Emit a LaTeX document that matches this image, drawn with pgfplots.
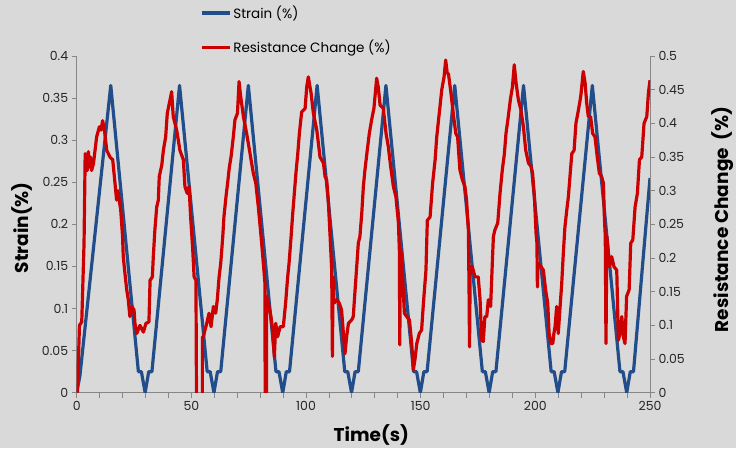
\documentclass[border=0pt]{standalone}
\usepackage{pgfplots}
\pgfplotsset{compat=1.18}
\usepackage{fontspec}
\setmainfont{Poppins}
\definecolor{bg}{RGB}{217,217,217}
\definecolor{axgray}{RGB}{134,134,134}
\definecolor{sblue}{RGB}{33,78,138}
\definecolor{rred}{RGB}{204,0,0}
\begin{document}
\begin{tikzpicture}
\path[use as bounding box, fill=bg] (0,0) rectangle (736pt,448pt);
\pgfplotsset{
 base/.style={
  at={(76.7pt,55.3pt)}, anchor=south west,
  width=573.3pt, height=336.7pt, scale only axis,
  xmin=0, xmax=250,
  tick align=outside,
  major tick length=5pt, minor tick length=5pt,
  tick style={axgray, line width=0.8pt},
  axis line style={axgray, line width=0.8pt},
  ticklabel style={font=\fontsize{12.5}{14}\selectfont, text=black!85},
  /pgf/number format/assume math mode=true,
  scaled y ticks=false,
  yticklabel style={/pgf/number format/fixed, /pgf/number format/precision=2},
  label style={font=\fontsize{18.5}{22}\selectfont\bfseries},
 }
}
\begin{axis}[base,
  axis y line*=left, axis x line*=bottom,
  ymin=0, ymax=0.4, ytick={0,0.05,0.1,0.15,0.2,0.25,0.3,0.35,0.4},
  xtick={0,50,100,150,200,250}, minor xtick={0,10,...,250},
  xlabel={Time(s)}, ylabel={Strain(\%)},
  xlabel style={at={(axis description cs:0.514,-0.126)}, anchor=center},
  ylabel style={at={(axis description cs:-0.0954,0.49)}, anchor=center},
]
\addplot[sblue, line width=3.2pt, line join=round] coordinates {
(0,0) (1.4,0.02) (14.85,0.365)
(26.9,0.025) (28.2,0.025) (29.85,0) (31.4,0.025) (32.8,0.025) (44.85,0.365)
(56.9,0.025) (58.2,0.025) (59.85,0) (61.4,0.025) (62.8,0.025) (74.85,0.365)
(86.9,0.025) (88.2,0.025) (89.85,0) (91.4,0.025) (92.8,0.025) (104.85,0.365)
(116.9,0.025) (118.2,0.025) (119.85,0) (121.4,0.025) (122.8,0.025) (134.85,0.365)
(146.9,0.025) (148.2,0.025) (149.85,0) (151.4,0.025) (152.8,0.025) (164.85,0.365)
(176.9,0.025) (178.2,0.025) (179.85,0) (181.4,0.025) (182.8,0.025) (194.85,0.365)
(206.9,0.025) (208.2,0.025) (209.85,0) (211.4,0.025) (212.8,0.025) (224.85,0.365)
(236.9,0.025) (238.2,0.025) (239.85,0) (241.4,0.025) (242.8,0.025) (250,0.255)
};
\end{axis}
\begin{axis}[base,
  axis y line*=right, axis x line=none,
  ymin=0, ymax=0.5, ytick={0,0.05,0.1,0.15,0.2,0.25,0.3,0.35,0.4,0.45,0.5},
  ylabel={Resistance Change\ \ (\%)},
  ylabel style={at={(axis description cs:1.127,0.515)}, anchor=center},
  legend style={draw=none, fill=none, at={(axis description cs:0.215,1.155)}, anchor=north west,
    font=\fontsize{13.5}{15}\selectfont, row sep=16pt, cells={anchor=west}, inner sep=0pt},
  legend image code/.code={\draw[#1] (0pt,0pt) -- (28pt,0pt);},
]
\addlegendimage{sblue, line width=3.2pt}
\addlegendentry{Strain (\%)}
\addplot[rred, line width=3.2pt, line join=round] coordinates {
(0.3,0) (0.6,0.03) (1.2,0.10) (2.2,0.105) (3.2,0.222) (3.7,0.355) (4.2,0.35) (4.6,0.33) (5.1,0.358) (5.5,0.335) (6.0,0.35) (6.5,0.33) (7.3,0.34)
(8.7,0.38) (9.9,0.395) (10.6,0.39) (11.3,0.404) (12.1,0.39) (13.1,0.36) (14.5,0.35) (15.7,0.346) (16.7,0.311) (17.4,0.286) (18.0,0.30) (18.6,0.285)
(19.2,0.271) (20.0,0.232) (20.3,0.202) (21.2,0.172) (21.8,0.153) (22.5,0.138) (23.2,0.113) (24.0,0.128) (25.0,0.123) (25.4,0.103) (26.2,0.088)
(27.6,0.10) (29.1,0.09) (30.2,0.103) (31.5,0.105) (32.0,0.167) (33.0,0.172) (33.4,0.202) (34.1,0.242) (34.9,0.276) (35.6,0.286) (36.0,0.321)
(37.1,0.338) (37.8,0.36) (38.8,0.38) (39.5,0.415) (40.7,0.435) (41.4,0.447) (42.1,0.41) (43.6,0.39) (45.0,0.36) (46.5,0.346) (47.2,0.306)
(48.2,0.296) (49.0,0.306) (49.7,0.26) (50.6,0.212) (51.2,0.172) (52.0,0.167) (52.3,-0.05) (54.8,-0.05) (54.8,0.083) (55.2,0.083) (56.7,0.103)
(57.7,0.118) (58.6,0.098) (59.6,0.128) (60.6,0.118) (61.3,0.138) (62.1,0.172) (62.8,0.192) (63.7,0.232) (64.2,0.261) (65.1,0.291) (65.8,0.311)
(66.6,0.336) (67.3,0.35) (68.3,0.38) (69.0,0.405) (70.1,0.415) (70.8,0.462) (71.5,0.44) (72.7,0.41) (74.1,0.385) (75.6,0.355) (77.0,0.326)
(78.1,0.311) (79.2,0.276) (80.4,0.232) (81.4,0.192) (82.1,0.162) (82.2,-0.05) (82.7,-0.05) (82.8,0.143) (83.9,0.128) (84.7,0.113) (85.3,0.098)
(86.2,0.053) (86.8,0.103) (87.6,0.083) (88.7,0.098) (90.1,0.098) (91.1,0.133) (92.0,0.172) (92.6,0.192) (93.5,0.232) (94.2,0.266) (94.9,0.296)
(95.6,0.326) (96.4,0.355) (97.1,0.385) (98.1,0.417) (99.6,0.422) (100.3,0.454) (101.0,0.469) (102.2,0.445) (103.2,0.415) (104.7,0.39) (106.1,0.35)
(107.6,0.341) (108.3,0.321) (109.0,0.316) (109.7,0.286) (110.5,0.232) (111.2,0.182) (111.5,0.054) (111.8,0.172) (112.2,0.133) (113.4,0.138)
(114.5,0.133) (115.5,0.123) (116.3,0.088) (117.0,0.058) (117.7,0.083) (118.5,0.103) (119.9,0.108) (120.6,0.113) (121.4,0.153) (122.1,0.187)
(122.8,0.222) (123.5,0.232) (124.3,0.266) (125.0,0.306) (125.7,0.331) (126.7,0.36) (127.6,0.385) (128.6,0.405) (129.6,0.422) (130.8,0.467)
(131.5,0.454) (132.3,0.427) (133.7,0.422) (134.9,0.385) (135.9,0.365) (136.9,0.336) (138.1,0.306) (139.2,0.291) (140.3,0.252) (140.7,0.212)
(140.9,0.071) (141.1,0.212) (141.4,0.212) (142.1,0.172) (142.9,0.118) (143.9,0.113) (145.1,0.108) (146.1,0.073) (146.8,0.034) (147.5,0.049)
(148.3,0.073) (149.4,0.088) (150.4,0.093) (151.2,0.133) (152.3,0.182) (152.9,0.256) (154.1,0.261) (155.2,0.311) (156.3,0.346) (157.0,0.38)
(158.1,0.415) (159.2,0.45) (160.2,0.469) (160.9,0.494) (161.6,0.474) (162.1,0.474) (163.2,0.445) (164.2,0.415) (165.3,0.385) (166.1,0.38)
(167.1,0.331) (168.2,0.316) (169.3,0.306) (170.0,0.286) (170.8,0.242) (171.1,0.152) (171.3,0.068) (171.6,0.187) (172.5,0.187) (173.7,0.172)
(175.1,0.172) (175.9,0.138) (176.6,0.078) (177.3,0.076) (178.0,0.113) (178.8,0.113) (179.5,0.138) (180.5,0.128) (181.0,0.172) (181.7,0.232)
(182.4,0.242) (183.6,0.252) (184.6,0.296) (185.6,0.331) (186.5,0.355) (187.2,0.385) (188.2,0.41) (189.1,0.435) (190.0,0.454) (190.8,0.487)
(191.6,0.46) (192.6,0.435) (193.7,0.42) (194.8,0.395) (195.8,0.36) (197.0,0.341) (198.1,0.336) (198.8,0.326) (199.6,0.291) (200.3,0.237)
(200.7,0.222) (200.9,0.157) (201.2,0.192) (202.5,0.187) (203.5,0.182) (204.5,0.152) (205.4,0.133) (206.0,0.088) (206.8,0.073) (207.6,0.073)
(208.1,0.088) (208.6,0.098) (209.3,0.128) (210.0,0.088) (210.8,0.128) (211.5,0.162) (212.2,0.207) (212.9,0.246) (213.7,0.271) (214.4,0.291)
(215.1,0.321) (215.9,0.355) (216.9,0.36) (217.7,0.40) (218.8,0.42) (219.8,0.44) (220.9,0.477) (221.7,0.46) (222.4,0.43) (223.1,0.41)
(224.1,0.41) (225.0,0.385) (226.0,0.38) (227.0,0.35) (227.9,0.326) (228.9,0.321) (229.7,0.311) (230.1,0.261) (230.5,0.232) (230.8,0.073)
(231.2,0.232) (232.3,0.187) (233.3,0.202) (234.3,0.187) (235.5,0.182) (236.2,0.078) (236.9,0.088) (237.7,0.113) (238.4,0.083) (239.1,0.073)
(239.8,0.143) (240.9,0.153) (241.6,0.222) (242.5,0.227) (243.5,0.276) (244.5,0.296) (245.4,0.346) (246.4,0.35) (247.4,0.40) (248.6,0.41)
(249.3,0.445) (250.0,0.464)
};
\addlegendentry{Resistance Change (\%)}
\end{axis}
\end{tikzpicture}
\end{document}
